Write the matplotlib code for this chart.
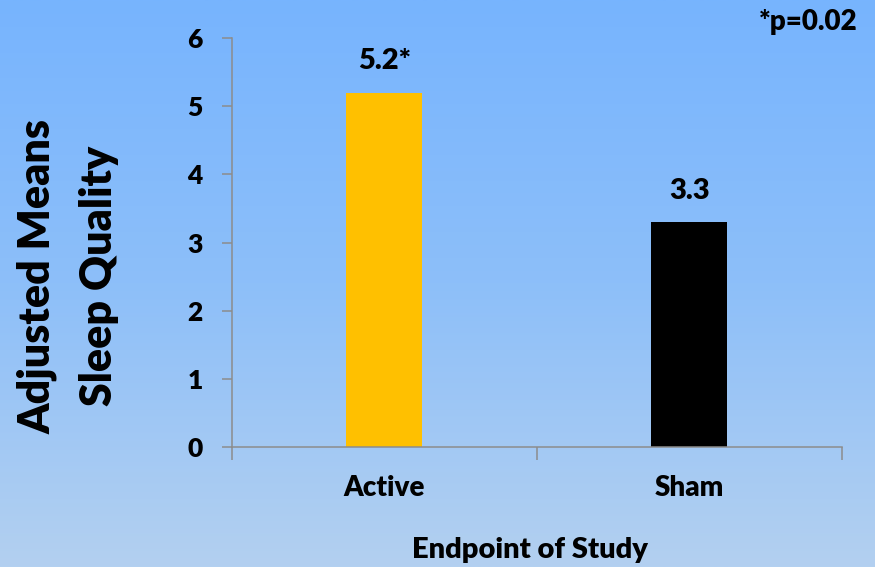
import numpy as np
import matplotlib.pyplot as plt
from matplotlib.colors import LinearSegmentedColormap

groups = ['Active', 'Sham']
means = [5.2, 3.3]
value_labels = ['5.2*', '3.3']
bar_colors = ['#FFC000', '#000000']
yticks = [0, 1, 2, 3, 4, 5, 6]

plt.rcParams['font.family'] = ['Lato', 'DejaVu Sans']
W = 'heavy'

fig = plt.figure(figsize=(8.75, 5.67), dpi=100)

# vertical blue gradient behind everything
bg = fig.add_axes([0, 0, 1, 1], zorder=-1)
cmap = LinearSegmentedColormap.from_list('bg', ['#B3D0F0', '#8DBFF9', '#77B4FE'])
bg.imshow(np.linspace(0, 1, 256).reshape(-1, 1), cmap=cmap, aspect='auto',
          origin='lower', extent=[0, 1, 0, 1])
bg.axis('off')

ax = fig.add_axes([0.265, 0.2116, 0.697, 0.7213])
ax.patch.set_alpha(0)
x = np.arange(len(groups))
ax.bar(x, means, width=0.25, color=bar_colors)
for xi, m, lab in zip(x, means, value_labels):
    ax.text(xi, m + 0.46, lab, ha='center', va='center', fontsize=21, fontweight=W)

ax.set_xlim(-0.5, 1.5)
ax.set_ylim(0, 6)
ax.set_yticks(yticks)
ax.set_xticks([-0.5, 0.5, 1.5])
ax.set_xticklabels([])
ax.set_xticks(x, minor=True)
ax.set_xticklabels(groups, minor=True)
ax.tick_params(axis='x', which='minor', length=0, pad=20, labelsize=20)
ax.tick_params(axis='x', which='major', length=9, width=1.1, color='#8c8c8c', direction='out')
ax.tick_params(axis='y', length=7, width=1.1, color='#8c8c8c', direction='out',
               labelsize=19, pad=14)
for lab in ax.get_yticklabels() + ax.get_xticklabels(minor=True):
    lab.set_fontweight(W)

for s in ['top', 'right']:
    ax.spines[s].set_visible(False)
for s in ['left', 'bottom']:
    ax.spines[s].set_color('#8c8c8c')
    ax.spines[s].set_linewidth(1.1)

fig.text(530 / 875, 1 - 550 / 567, 'Endpoint of Study', ha='center', va='center',
         fontsize=21, fontweight=W)
fig.text(37 / 875, 1 - 277 / 567, 'Adjusted Means', rotation=90, ha='center',
         va='center', fontsize=31, fontweight=W)
fig.text(99 / 875, 1 - 276 / 567, 'Sleep Quality', rotation=90, ha='center',
         va='center', fontsize=31, fontweight=W)
fig.text(808 / 875, 1 - 22 / 567, '*p=0.02', ha='center', va='center',
         fontsize=20, fontweight=W)

fig.savefig('out.png', dpi=100)
